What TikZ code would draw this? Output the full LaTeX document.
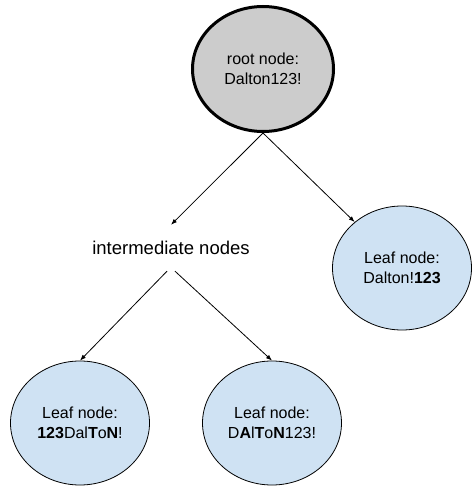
\documentclass[tikz,border=0pt]{standalone}
\usepackage{fontspec}
\setmainfont{Liberation Sans}
\usetikzlibrary{positioning, arrows.meta, shapes.geometric}

\definecolor{rootgray}{HTML}{CCCCCC}
\definecolor{leafblue}{HTML}{CFE2F3}

\tikzset{
  rootnode/.style={ellipse, draw, line width=3pt, fill=rootgray,
    minimum width=141pt, minimum height=125pt, align=center,
    font=\fontsize{16}{20}\selectfont},
  leafnode/.style={ellipse, draw, line width=0.8pt, fill=leafblue,
    minimum width=139pt, minimum height=124pt, align=center,
    font=\fontsize{16}{20}\selectfont},
  midnode/.style={minimum height=46pt, font=\fontsize{18.5}{22}\selectfont},
  link/.style={-{Latex[length=6pt,width=4.5pt]}, line width=0.8pt}
}

\begin{document}
\begin{tikzpicture}[x=1pt, y=-1pt, on grid]
   \useasboundingbox (0,0) rectangle (472,486);

   % Root and its children
   \node[rootnode] (root) at (263,69) {root node:\\Dalton123!};
   \node[midnode] (inter) [below left=179pt and 92pt of root] {intermediate nodes};
   \node[leafnode] (leafr) [below right=199pt and 139pt of root] {Leaf node:\\Dalton!\textbf{123}};

   % Leaves under the intermediate nodes
   \node[leafnode] (leafl) [below left=175pt and 91pt of inter] {Leaf node:\\\textbf{123}Dal\textbf{T}o\textbf{N}!};
   \node[leafnode] (leafm) [below right=175pt and 101pt of inter] {Leaf node:\\D\textbf{A}l\textbf{T}o\textbf{N}123!};

   % Arrows
   \path[link]
    (root.south) edge (inter.north)
    (root.south) edge (leafr)
    ([xshift=-4pt]inter.south) edge (leafl.north)
    ([xshift=4pt]inter.south) edge (leafm.north);
\end{tikzpicture}
\end{document}
